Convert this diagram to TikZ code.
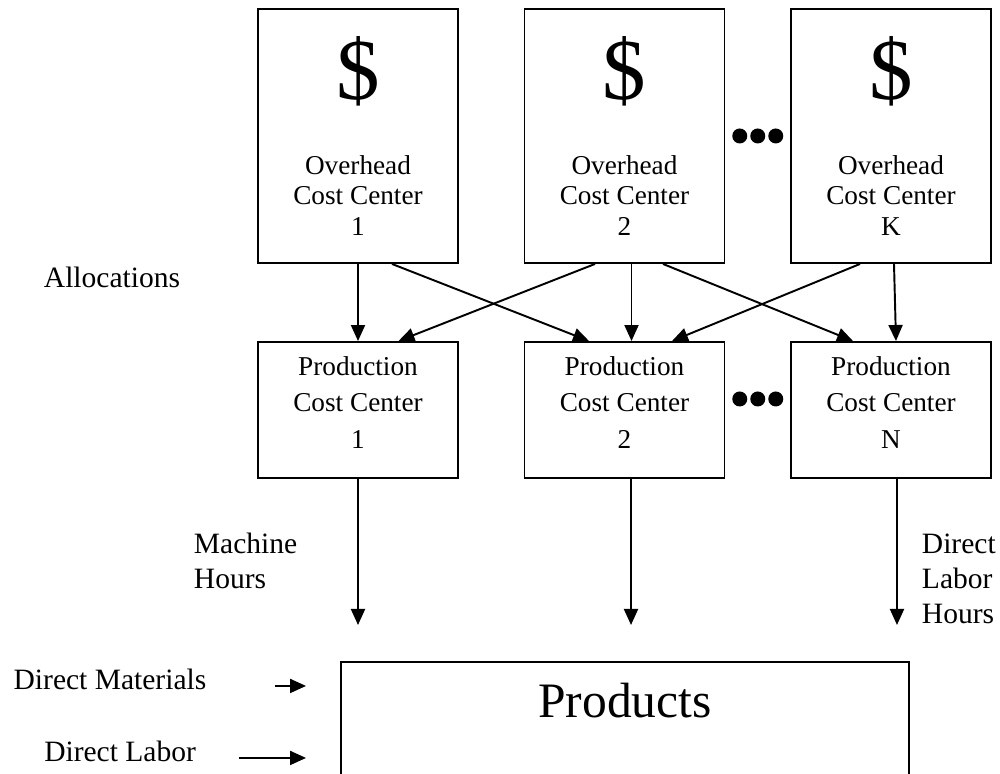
\documentclass[tikz,border=0pt]{standalone}
\usepackage{fontspec}
\setmainfont{Liberation Serif}
\usepackage{tikz}
\usetikzlibrary{arrows.meta,calc}
\tikzstyle{overhead} = [draw, rectangle, minimum width=4cm, minimum height=5.08cm,
    align=center, inner sep=0pt, font=\fontsize{15.5pt}{17.6pt}\selectfont]
\tikzstyle{production} = [draw, rectangle, minimum width=4cm, minimum height=2.72cm,
    align=center, inner sep=0pt, text depth=0.3cm, font=\fontsize{15.5pt}{21pt}\selectfont]
\tikzstyle{products} = [draw, rectangle, minimum width=11.36cm, inner sep=0pt,
    text height=1.12cm, text depth=3cm, font=\fontsize{28.2pt}{34pt}\selectfont]
\tikzstyle{sidetext} = [inner sep=0pt, align=left, font=\fontsize{16.8pt}{19.9pt}\selectfont]
\newcommand{\bigdollar}{{\fontsize{49.5pt}{50pt}\selectfont\$}}

\begin{document}
\begin{tikzpicture}[node distance=5.33cm, line width=1.1pt,
    >={Triangle[length=0.32cm,width=0.28cm]}]
	\useasboundingbox (0,0) rectangle (20,15.48);
	\clip (0,0) rectangle (20,15.48);

	% Overhead cost centers
	\node [overhead] (oh1) at (7.16,12.76) {\bigdollar\\[0.88cm]Overhead\\Cost Center\\1};
	\node [overhead, right of=oh1] (oh2) {\bigdollar\\[0.88cm]Overhead\\Cost Center\\2};
	\node [overhead, right of=oh2] (ohK) {\bigdollar\\[0.88cm]Overhead\\Cost Center\\K};

	% Production cost centers
	\node [production, below of=oh1, node distance=5.48cm] (pc1) {Production\\Cost Center\\1};
	\node [production, right of=pc1] (pc2) {Production\\Cost Center\\2};
	\node [production, right of=pc2] (pcN) {Production\\Cost Center\\N};

	% Products
	\node [products, anchor=north] (products) at (12.5,2.26) {Products};

	% Side texts
	\node [sidetext, anchor=base west] (alloc) at (0.86,9.72) {Allocations};
	\node [sidetext, anchor=west] (mhours) at (3.86,4.26) {Machine\\Hours};
	\node [sidetext, anchor=west] (dlhours) at (18.42,3.90) {Direct\\Labor\\Hours};
	\node [sidetext, anchor=base west] (dmat) at (0.254,1.68) {Direct Materials};
	\node [sidetext, anchor=base west] (dlab) at (0.866,0.24) {Direct Labor};

	% Dots between the centers
	\coordinate (ohdots) at ($(oh2.east)!0.5!(ohK.west)$);
	\coordinate (pcdots) at ($(pc2.east)!0.5!(pcN.west)+(0,0.22)$);
	\fill (ohdots) +(-0.36,0) circle (0.15) +(0,0) circle (0.15) +(0.36,0) circle (0.15);
	\fill (pcdots) +(-0.36,0) circle (0.15) +(0,0) circle (0.15) +(0.36,0) circle (0.15);

	% Allocations
	\draw [->] (oh1) -- (pc1);
	\draw [->] ([xshift=0.68cm]oh1.south) -- ([xshift=-0.71cm]pc2.north);
	\draw [->] ([xshift=-0.59cm]oh2.south) -- ([xshift=0.81cm]pc1.north);
	\draw [->] ([xshift=0.14cm]oh2.south) -- ([xshift=0.14cm]pc2.north);
	\draw [->] ([xshift=0.77cm]oh2.south) -- ([xshift=-0.76cm]pcN.north);
	\draw [->] ([xshift=-0.62cm]ohK.south) -- ([xshift=0.95cm]pc2.north);
	\draw [->] ([xshift=0.06cm]ohK.south) -- ([xshift=0.10cm]pcN.north);

	% Into the products
	\coordinate (in1) at ($(pc1.south |- products.north)+(0,0.72)$);
	\coordinate (in2) at ($(pc2.south |- products.north)+(0.13,0.72)$);
	\coordinate (inN) at ($(pcN.south |- products.north)+(0.12,0.72)$);
	\draw [->] (pc1) -- (in1);
	\draw [->] ([xshift=0.13cm]pc2.south) -- (in2);
	\draw [->] ([xshift=0.12cm]pcN.south) -- (inN);

	\coordinate (dmstart) at ($(dmat.mid east -| products.west)+(-1.30,0)$);
	\coordinate (dmend) at ($(dmat.mid east -| products.west)+(-0.68,0)$);
	\coordinate (dlstart) at ($(dlab.mid east -| products.west)+(-2.02,0)$);
	\coordinate (dlend) at ($(dlab.mid east -| products.west)+(-0.68,0)$);
	\draw [->] (dmstart) -- (dmend);
	\draw [->] (dlstart) -- (dlend);
\end{tikzpicture}
\end{document}
